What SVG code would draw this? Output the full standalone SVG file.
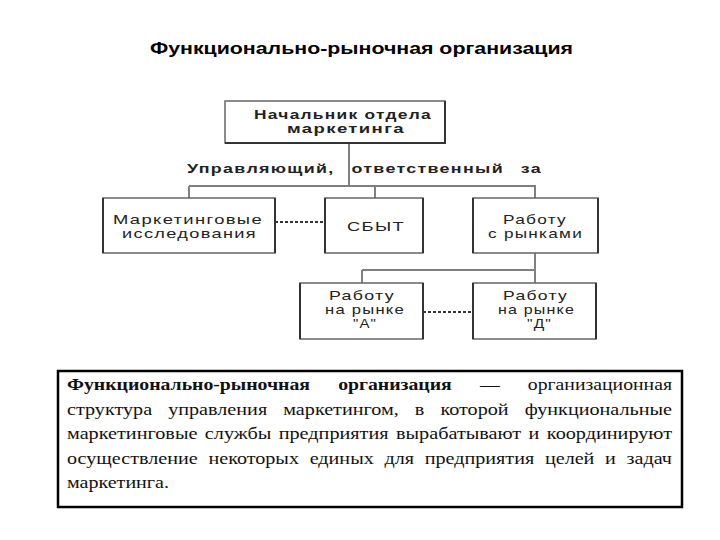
<svg xmlns="http://www.w3.org/2000/svg" width="720" height="540" viewBox="0 0 720 540">
<style>
.box{fill:#fff;stroke:#666;stroke-width:1.5}
.sh{stroke:#333;stroke-width:2;fill:none}
.lbl{font-size:13.5px;fill:#222;letter-spacing:1px}
.b{font-weight:bold}
.ln{stroke:#808080;stroke-width:2;fill:none}
.dot{stroke:#333;stroke-width:2;stroke-dasharray:3 2;fill:none}
.par{font-size:17px;fill:#111}
</style>
<rect width="720" height="540" fill="#fff"/>
<text x="150" y="54" textLength="423" lengthAdjust="spacingAndGlyphs" font-family="Liberation Sans, Arial, sans-serif" font-size="16" font-weight="bold" fill="#000">Функционально-рыночная организация</text>

<g id="connectors">
<line class="ln" x1="349" y1="143" x2="349" y2="186"/>
<line class="ln" x1="189" y1="186" x2="536" y2="186"/>
<line class="ln" x1="189" y1="186" x2="189" y2="198"/>
<line class="ln" x1="375" y1="186" x2="375" y2="198"/>
<line class="ln" x1="535" y1="186" x2="535" y2="198"/>
<line class="dot" x1="275" y1="222" x2="325" y2="222"/>
<line class="ln" x1="535" y1="253" x2="535" y2="270"/>
<line class="ln" x1="362" y1="270" x2="536" y2="270"/>
<line class="ln" x1="362" y1="270" x2="362" y2="283"/>
<line class="ln" x1="535" y1="270" x2="535" y2="283"/>
<line class="dot" x1="423" y1="312" x2="473" y2="312"/>
</g>

<g id="head" font-family="Liberation Sans, Arial, sans-serif">
<rect class="box" x="225" y="101" width="220" height="42"/>
<polyline class="sh" points="445,101 445,143 225,143"/>
<text class="lbl b" x="254" y="119" textLength="178" lengthAdjust="spacingAndGlyphs">Начальник отдела</text>
<text class="lbl b" x="287" y="133" textLength="118" lengthAdjust="spacingAndGlyphs">маркетинга</text>
</g>

<g id="role-label" font-family="Liberation Sans, Arial, sans-serif">
<text class="lbl b" x="187" y="173" textLength="355" lengthAdjust="spacingAndGlyphs" style="word-spacing:8px">Управляющий, ответственный за</text>
</g>

<g id="research" font-family="Liberation Sans, Arial, sans-serif">
<rect class="box" x="103" y="198" width="172" height="55"/>
<polyline class="sh" points="275,198 275,253"/>
<line x1="103" y1="198" x2="103" y2="253" class="sh"/>
<text class="lbl" x="113" y="224" textLength="150" lengthAdjust="spacingAndGlyphs">Маркетинговые</text>
<text class="lbl" x="122" y="238" textLength="135" lengthAdjust="spacingAndGlyphs">исследования</text>
</g>

<g id="sales" font-family="Liberation Sans, Arial, sans-serif">
<rect class="box" x="325" y="198" width="98" height="55"/>
<polyline class="sh" points="325,198 325,253"/>
<polyline class="sh" points="423,198 423,253"/>
<text class="lbl" x="347" y="231" textLength="58" lengthAdjust="spacingAndGlyphs">СБЫТ</text>
</g>

<g id="markets" font-family="Liberation Sans, Arial, sans-serif">
<rect class="box" x="473" y="198" width="125" height="55"/>
<polyline class="sh" points="473,198 473,253"/>
<polyline class="sh" points="598,198 598,253"/>
<text class="lbl" x="503" y="224" textLength="64" lengthAdjust="spacingAndGlyphs">Работу</text>
<text class="lbl" x="488" y="238" textLength="95" lengthAdjust="spacingAndGlyphs">с рынками</text>
</g>

<g id="market-a" font-family="Liberation Sans, Arial, sans-serif">
<rect class="box" x="300" y="283" width="123" height="56"/>
<polyline class="sh" points="300,283 300,339"/>
<polyline class="sh" points="423,283 423,339"/>
<text class="lbl" x="329" y="300" textLength="66" lengthAdjust="spacingAndGlyphs">Работу</text>
<text class="lbl" x="325" y="314" textLength="80" lengthAdjust="spacingAndGlyphs">на рынке</text>
<text class="lbl" x="353" y="328" textLength="24" lengthAdjust="spacingAndGlyphs">"А"</text>
</g>

<g id="market-d" font-family="Liberation Sans, Arial, sans-serif">
<rect class="box" x="473" y="283" width="123" height="56"/>
<polyline class="sh" points="473,283 473,339"/>
<polyline class="sh" points="596,283 596,339"/>
<text class="lbl" x="503" y="300" textLength="65" lengthAdjust="spacingAndGlyphs">Работу</text>
<text class="lbl" x="498" y="314" textLength="77" lengthAdjust="spacingAndGlyphs">на рынке</text>
<text class="lbl" x="527" y="328" textLength="25" lengthAdjust="spacingAndGlyphs">"Д"</text>
</g>

<g id="definition" font-family="Liberation Serif, Times New Roman, serif">
<rect x="58" y="371" width="624" height="136" fill="#fff" stroke="#000" stroke-width="2.5"/>
<text class="par" x="67" y="390" textLength="605" lengthAdjust="spacingAndGlyphs" style="word-spacing:20px"><tspan font-weight="bold">Функционально-рыночная организация</tspan> — организационная</text>
<text class="par" x="67" y="414.5" textLength="605" lengthAdjust="spacingAndGlyphs" style="word-spacing:9.3px">структура управления маркетингом, в которой функциональные</text>
<text class="par" x="67" y="439" textLength="605" lengthAdjust="spacingAndGlyphs" style="word-spacing:2px">маркетинговые службы предприятия вырабатывают и координируют</text>
<text class="par" x="67" y="463.5" textLength="605" lengthAdjust="spacingAndGlyphs" style="word-spacing:4.8px">осуществление некоторых единых для предприятия целей и задач</text>
<text class="par" x="67" y="488" textLength="102" lengthAdjust="spacingAndGlyphs">маркетинга.</text>
</g>
</svg>
